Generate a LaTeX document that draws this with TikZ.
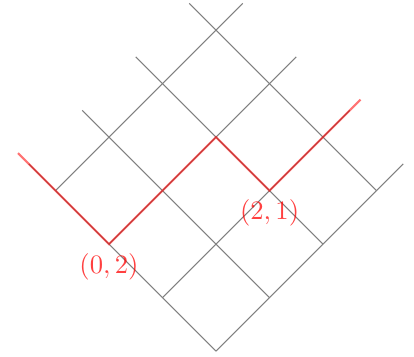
\documentclass[tikz,border=0pt]{standalone}
\usepackage{amsmath, amssymb}
\usepackage{tikz}

\begin{document}
\begin{tikzpicture}[every node/.style={text=red, text opacity=0.75}]
  \useasboundingbox (-2.855,-0.066) rectangle (2.616,4.64);
  \begin{scope}[rotate=45]
  % grid
  \draw[gray] (0,0) -- (0,3.5);
  \draw[gray] (1,0) -- (1,3.5);
  \draw[gray] (2,0) -- (2,3.5);
  \draw[gray] (3,0) -- (3,3.5);
  \draw[gray] (0,0) -- (3.5,0);
  \draw[gray] (0,1) -- (3.5,1);
  \draw[gray] (0,2) -- (3.5,2);
  \draw[gray] (0,3) -- (3.5,3);
  % path
  \coordinate (start) at (0,3.7);
  \coordinate (stop) at (3.7,1);
  \node[below] (lowA) at (0,2) {$(0,2)$};
  \node[below] (lowB) at (2,1) {$(2,1)$};
  \draw[red, thick, draw opacity=0.55] (start) -- (lowA.north) -- (2,2) -- (lowB.north) -- (stop);
  \end{scope}
\end{tikzpicture}
\end{document}
